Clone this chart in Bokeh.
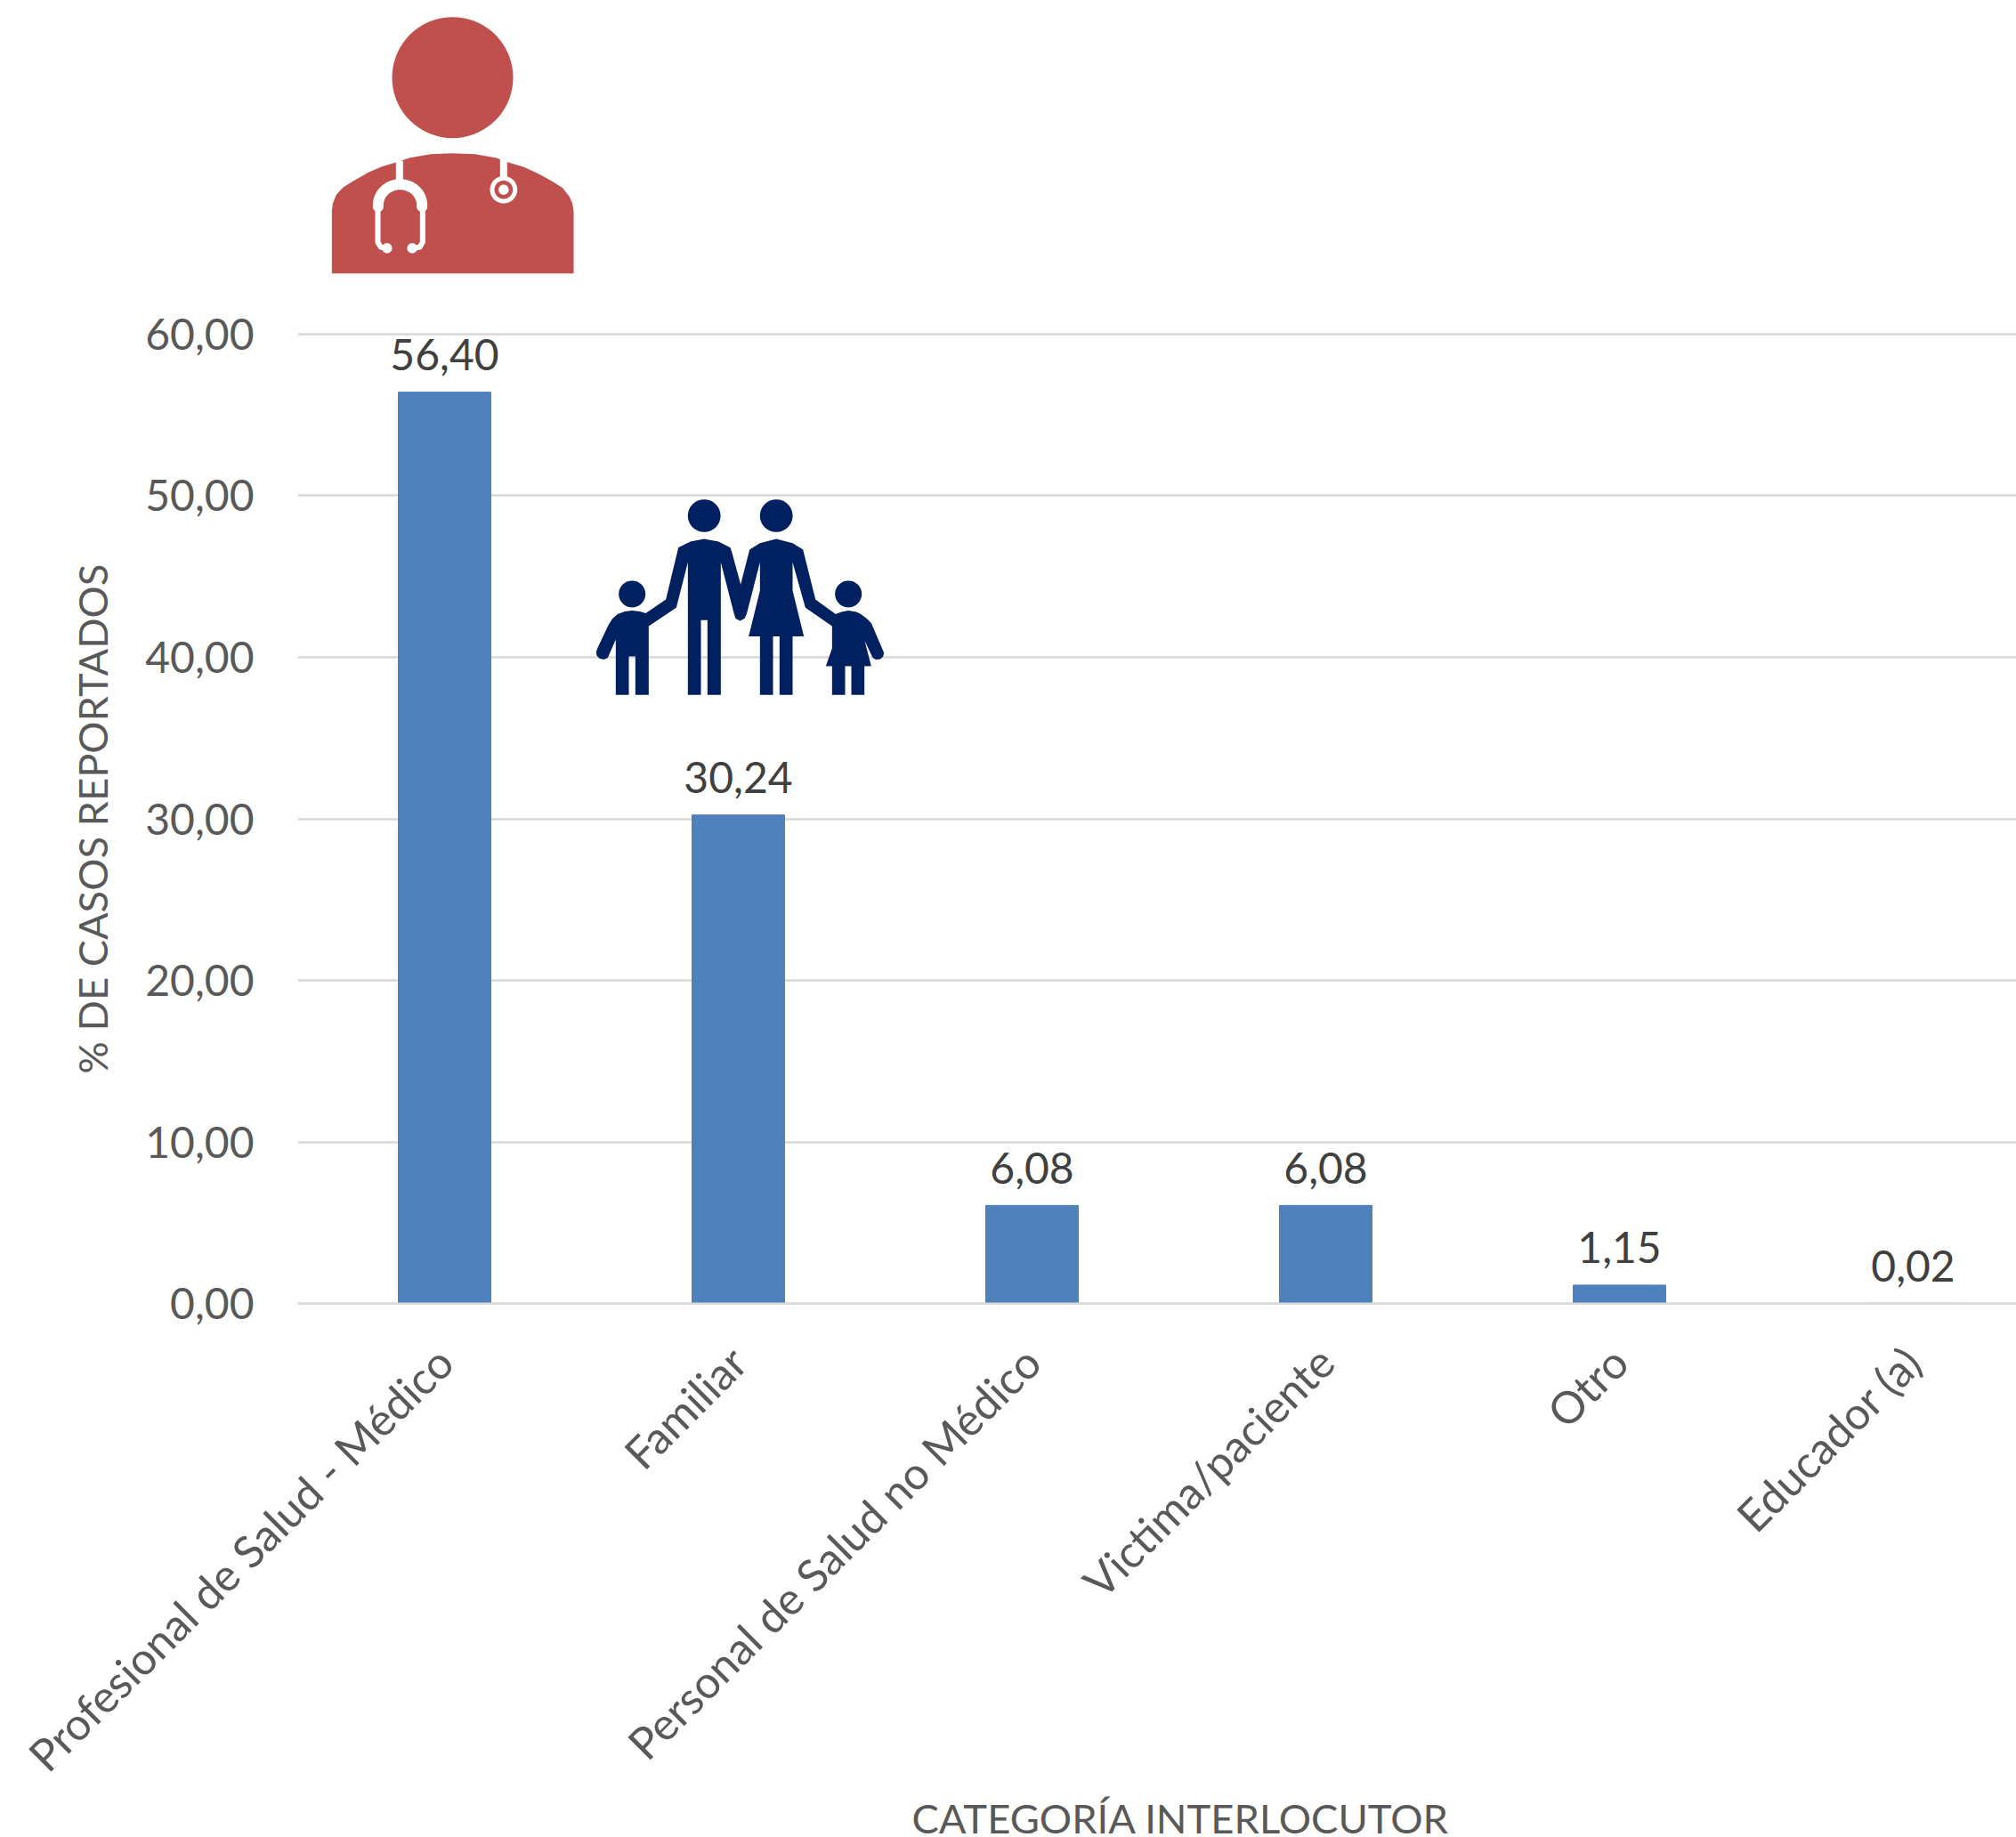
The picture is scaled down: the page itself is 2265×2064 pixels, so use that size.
import math
from bokeh.embed import file_html
from bokeh.layouts import column
from bokeh.models import ColumnDataSource, FixedTicker, Range1d, Span, Title
from bokeh.plotting import figure
from bokeh.resources import INLINE
from bokeh.core.properties import value

categories = ["Profesional de Salud - Médico", "Familiar", "Personal de Salud no Médico",
              "Victima/paciente", "Otro", "Educador (a)"]
values = [56.40, 30.24, 6.08, 6.08, 1.15, 0.02]
value_labels = ["56,40", "30,24", "6,08", "6,08", "1,15", "0,02"]
y_ticks = [0, 10, 20, 30, 40, 50, 60]
y_tick_labels = ["0,00", "10,00", "20,00", "30,00", "40,00", "50,00", "60,00"]
x_title = "CATEGORÍA INTERLOCUTOR"
y_title = "% DE CASOS REPORTADOS"

FONT = "Lato"
W, H = 2265, 2064
TOP_H = 345              # height of the icon strip above the chart
FL, FT, FB = 334, 375, 1465  # left edge, y=60 and y=0 in image pixels
PXU = (FB - FT) / 60.0
PXC = 330.0
Y_LO, Y_HI = -0.15, 60.15

def dx(px):
    return (px - FL) / PXC - 0.5
def dy(py):
    return (FB - py) / PXU

xs = list(range(len(categories)))
p = figure(width=W, frame_width=W - FL, frame_height=round((Y_HI - Y_LO) * PXU), output_backend="svg",
           toolbar_location=None, x_range=Range1d(-0.5, dx(W)), y_range=Range1d(Y_LO, Y_HI),
           min_border_left=FL, min_border_right=0, min_border_top=FT - TOP_H - 3,
           min_border_bottom=H - FB - 3, outline_line_color=None)

p.grid.grid_line_color = None
p.ygrid.grid_line_color = "#D9D9D9"
p.ygrid.grid_line_width = 2.5
p.ygrid.ticker = FixedTicker(ticks=y_ticks)

p.yaxis.ticker = FixedTicker(ticks=y_ticks)
p.yaxis.major_label_overrides = dict(zip(y_ticks, y_tick_labels))
p.yaxis.axis_line_color = None
p.yaxis.major_tick_line_color = None
p.yaxis.minor_tick_line_color = None
p.yaxis.major_label_text_font = FONT
p.yaxis.major_label_text_font_size = "48px"
p.yaxis.major_label_text_color = "#595959"
p.yaxis.major_label_standoff = 43
p.yaxis.axis_label = y_title
p.yaxis.axis_label_text_font = FONT
p.yaxis.axis_label_text_font_style = "normal"
p.yaxis.axis_label_text_font_size = "45.3px"
p.yaxis.axis_label_text_color = "#595959"
p.yaxis.axis_label_standoff = 29

p.xaxis.ticker = FixedTicker(ticks=xs)
p.xaxis.major_label_overrides = dict(zip(xs, categories))
p.xaxis.major_label_orientation = math.pi / 4
p.xaxis.axis_line_color = None
p.xaxis.major_tick_line_color = None
p.xaxis.minor_tick_line_color = None
p.xaxis.major_label_text_font = FONT
p.xaxis.major_label_text_font_size = "49.8px"
p.xaxis.major_label_text_color = "#595959"
p.xaxis.major_label_standoff = 48

src = ColumnDataSource(dict(x=xs, top=values, lab=value_labels))
p.vbar(x="x", top="top", bottom=0, width=0.315, color="#4F81BD", source=src)
p.text(x="x", y="top", text="lab", source=src, text_align="center", text_baseline="middle",
       y_offset=-42, text_font=value(FONT), text_font_size="48px", text_color="#404040")
p.add_layout(Span(location=0, dimension="width", line_color="#D9D9D9", line_width=2.5, level="overlay"))

p.add_layout(Title(text=x_title, align="left", offset=690, vertical_align="top", text_font=FONT,
                   text_font_style="normal", text_font_size="45.4px", text_color="#595959", standoff=-21), "below")

# ---- decorative icons: outlines in crop coordinates ----
icon = figure(width=W, frame_width=W - FL, height=TOP_H, output_backend="svg", toolbar_location=None,
              x_axis_location=None, y_axis_location=None, min_border_left=FL,
              x_range=Range1d(FL, W), y_range=Range1d(TOP_H, 0), min_border_right=0, min_border_top=0,
              min_border_bottom=0, outline_line_color=None)
icon.grid.visible = False

DOC = "#C0504D"
def docx(a): return [340 + v / 3 for v in a]
def docy(a): return [v / 3 for v in a]
def famx(a): return [dx(650 + v / 3) for v in a]
def famy(a): return [dy(540 + v / 3) for v in a]

def disc(fig, fx, fy, cx, cy, r, color):
    pts = [i * 2 * math.pi / 72 for i in range(72)]
    fig.patch(fx([cx + r * math.cos(t) for t in pts]), fy([cy + r * math.sin(t) for t in pts]),
              color=color, line_width=0)

disc(icon, docx, docy, 504, 260, 204, DOC)
body = [(97, 920), (97, 710), (100, 685), (112, 655), (135, 630), (170, 608), (220, 580), (265, 560), (315, 545),
        (360, 530), (430, 518), (504, 515), (580, 518), (650, 530), (690, 545), (745, 562), (795, 585), (840, 610),
        (875, 632), (897, 660), (908, 685), (912, 710), (912, 920)]
icon.patch(docx([a for a, _ in body]), docy([b for _, b in body]), color=DOC, line_width=0)

tube1 = [(325, 540), (325, 610)]
tube2 = [(676, 535), (676, 600)]
icon.line(docx([a for a, _ in tube1]), docy([b for _, b in tube1]), color="white", line_width=8)
icon.line(docx([a for a, _ in tube2]), docy([b for _, b in tube2]), color="white", line_width=8)
arch = [(327 + 74 * math.cos(math.pi + i * math.pi / 24), 690 + 70 * math.sin(math.pi + i * math.pi / 24)) for i in range(25)]
icon.line(docx([a for a, _ in arch]), docy([b for _, b in arch]), color="white", line_width=12)
hose1 = [(252, 690), (252, 815), (262, 832), (283, 835)]
hose2 = [(403, 690), (403, 815), (393, 832), (368, 835)]
icon.line(docx([a for a, _ in hose1]), docy([b for _, b in hose1]), color="white", line_width=6)
icon.line(docx([a for a, _ in hose2]), docy([b for _, b in hose2]), color="white", line_width=6)
disc(icon, docx, docy, 253, 695, 18, "white")
disc(icon, docx, docy, 401, 695, 18, "white")
disc(icon, docx, docy, 283, 835, 17, "white")
disc(icon, docx, docy, 368, 835, 17, "white")
disc(icon, docx, docy, 676, 638, 46, "white")
disc(icon, docx, docy, 676, 638, 31, DOC)
disc(icon, docx, docy, 676, 638, 17, "white")

NAVY = "#002060"
family = [(422, 196), (470, 205), (510, 225), (515, 240), (545, 350), (575, 232), (610, 210), (665, 196), (720, 210),
          (755, 232), (797, 400), (865, 450), (885, 442), (908, 438), (935, 442), (950, 450), (970, 465), (985, 480),
          (1028, 580), (1025, 593), (1015, 602), (1000, 603), (990, 597),
          (963, 540), (985, 625), (962, 625), (962, 722), (918, 722), (918, 625), (897, 625), (897, 722), (853, 722),
          (853, 625), (832, 625), (853, 565), (853, 490), (763, 428), (720, 275), (720, 370), (758, 525), (720, 525),
          (720, 722), (676, 722), (676, 525), (654, 525), (654, 722), (610, 722), (610, 525), (572, 525), (610, 370),
          (610, 275), (565, 450), (558, 465), (543, 472), (528, 465), (523, 450), (478, 275), (478, 722), (433, 722),
          (433, 470), (411, 470), (411, 722), (367, 722), (367, 275), (328, 428), (235, 490), (235, 722), (190, 722),
          (190, 592), (168, 592), (168, 722), (124, 722), (124, 535), (97, 597), (85, 603), (70, 600), (60, 590),
          (58, 578), (62, 565), (100, 485), (113, 465), (130, 450), (155, 441), (179, 438), (205, 441),
          (225, 447), (293, 400), (335, 225), (375, 205)]
p.patch(famx([a for a, _ in family]), famy([b for _, b in family]), color=NAVY, line_width=0)
disc(p, famx, famy, 422, 118, 55, NAVY)
disc(p, famx, famy, 665, 118, 55, NAVY)
disc(p, famx, famy, 179, 382, 45, NAVY)
disc(p, famx, famy, 908, 382, 45, NAVY)

open("out.html", "w").write(file_html(column(icon, p, spacing=0), INLINE))
